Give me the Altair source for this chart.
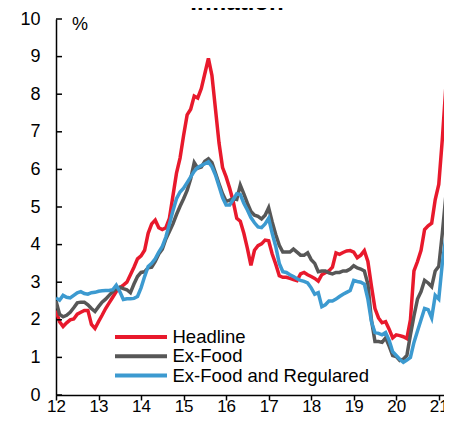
import altair as alt
import pandas as pd

# ---- data (monthly, Jan 2012 onwards) ----
series_names = ["Headline", "Ex-Food", "Ex-Food and Regulared"]
series_colors = ["#E8192C", "#575757", "#3C9AD0"]

headline = [2.25, 1.95, 1.82, 1.92, 2.0, 2.02, 2.15, 2.2, 2.25, 2.25, 1.88, 1.77,
            1.95, 2.12, 2.3, 2.45, 2.6, 2.75, 2.85, 2.92, 3.0, 3.2, 3.4, 3.62,
            3.7, 3.85, 4.3, 4.55, 4.65, 4.45, 4.4, 4.45, 4.7, 5.3, 5.9, 6.3,
            6.9, 7.45, 7.6, 7.95, 7.9, 8.15, 8.55, 8.95, 8.5, 7.6, 6.7, 6.05,
            5.8, 5.5, 5.15, 4.7, 4.62, 4.3, 3.9, 3.45, 3.85, 3.97, 4.02, 4.12,
            4.1, 3.75, 3.48, 3.17, 3.13, 3.13, 3.1, 3.07, 3.04, 3.22, 3.26, 3.2,
            3.15, 3.1, 3.03, 3.2, 3.25, 3.3, 3.4, 3.78, 3.74, 3.79, 3.83, 3.84,
            3.8, 3.65, 3.72, 3.84, 3.55, 2.9, 2.3, 2.05, 1.92, 1.95, 1.75, 1.52,
            1.6, 1.58, 1.55, 1.5, 2.0, 3.3, 3.55, 3.85, 4.4, 4.5, 4.57, 5.2,
            5.6, 6.8, 8.2]

ex_food = [2.5, 2.15, 2.08, 2.12, 2.2, 2.32, 2.45, 2.47, 2.47, 2.4, 2.3, 2.22,
           2.35, 2.47, 2.55, 2.65, 2.75, 2.82, 2.87, 2.83, 2.8, 2.72, 2.95, 3.15,
           3.26, 3.28, 3.38, 3.4, 3.55, 3.75, 3.88, 4.15, 4.35, 4.55, 4.8, 5.02,
           5.22, 5.44, 5.75, 6.18, 6.03, 6.06, 6.22, 6.28, 6.18, 5.9, 5.62, 5.35,
           5.15, 5.18, 5.22, 5.2, 5.58, 5.35, 5.1, 4.88, 4.78, 4.75, 4.68, 4.78,
           4.98, 4.6, 4.27, 3.98, 3.8, 3.8, 3.8, 3.88, 3.8, 3.72, 3.72, 3.78,
           3.6, 3.5, 3.28, 3.3, 3.3, 3.25, 3.22, 3.26, 3.26, 3.3, 3.3, 3.35,
           3.44, 3.38, 3.35, 3.3, 2.95, 2.0, 1.42, 1.42, 1.4, 1.52, 1.3, 1.05,
           1.02, 0.92, 0.95, 1.05, 1.6, 2.1, 2.55, 2.75, 3.05, 2.98, 2.88, 3.3,
           3.42, 4.3, 5.3]

ex_food_reg = [2.58, 2.52, 2.65, 2.6, 2.58, 2.65, 2.72, 2.75, 2.7, 2.68, 2.72, 2.73,
               2.76, 2.77, 2.78, 2.78, 2.8, 2.92, 2.75, 2.54, 2.56, 2.56, 2.57, 2.62,
               2.85, 3.15, 3.42, 3.5, 3.62, 3.8, 3.95, 4.2, 4.55, 4.9, 5.22, 5.4,
               5.5, 5.65, 5.8, 5.95, 6.05, 6.1, 6.15, 6.2, 6.07, 5.85, 5.55, 5.25,
               5.05, 5.05, 5.2, 5.35, 5.33, 5.1, 4.92, 4.72, 4.58, 4.47, 4.45, 4.55,
               4.7, 4.3, 3.95, 3.5, 3.28, 3.26, 3.2, 3.15, 3.09, 3.05, 3.02, 2.98,
               2.85, 2.68, 2.72, 2.35, 2.4, 2.5, 2.5, 2.55, 2.62, 2.68, 2.73, 2.78,
               3.05, 3.02, 3.0, 2.95, 2.55, 1.95, 1.66, 1.64, 1.6, 1.66, 1.45, 1.15,
               1.05, 0.95, 0.87, 0.93, 1.0, 1.4, 1.7, 2.0, 2.3, 2.27, 2.05, 2.65,
               2.55, 3.5, 4.2]

x_ticks = [12, 13, 14, 15, 16, 17, 18, 19, 20, 21]
y_ticks = [0, 1, 2, 3, 4, 5, 6, 7, 8, 9, 10]
title_text = "Inflation"
unit_text = "%"

FONT = "Liberation Sans"
all_series = [headline, ex_food, ex_food_reg]

xscale = alt.Scale(domain=[12, 21.123], nice=False, zero=False)
yscale = alt.Scale(domain=[0, 10], nice=False)
xaxis = alt.Axis(values=x_ticks, format="d", tickSize=5, labelPadding=-2,
                 labelFontSize=17, title=None, grid=False, labelFlush=False,
                 labelOverlap=False, domainWidth=1.5, tickWidth=1.5)
yaxis = alt.Axis(values=y_ticks, ticks=False, labelPadding=16, labelFontSize=18,
                 title=None, grid=False, labelOverlap=False, labelFlush=False,
                 domainWidth=1.5)

layers = []
for name, color, vals in zip(series_names, series_colors, all_series):
    df = pd.DataFrame({"t": [12 + i / 12 for i in range(len(vals))], "v": vals})
    layers.append(
        alt.Chart(df).mark_line(color=color, strokeWidth=3.5, clip=True).encode(
            x=alt.X("t:Q", scale=xscale, axis=xaxis),
            y=alt.Y("v:Q", scale=yscale, axis=yaxis),
        )
    )

# inward y ticks
ytick_df = pd.DataFrame({"v": y_ticks})
yticks = alt.Chart(ytick_df).mark_rule(color="black", strokeWidth=1.5).encode(
    y=alt.Y("v:Q", scale=yscale, axis=yaxis), x=alt.value(0), x2=alt.value(6)
)

one = pd.DataFrame({"a": [0]})
title = alt.Chart(one).mark_text(fontSize=24, fontWeight="bold", font=FONT,
                                 align="center", baseline="alphabetic", color="black").encode(
    x=alt.value(181), y=alt.value(-9), text=alt.value(title_text))
unit = alt.Chart(one).mark_text(fontSize=18, font=FONT, align="center",
                                baseline="middle", color="black").encode(
    x=alt.value(24), y=alt.value(6), text=alt.value(unit_text))

legend_layers = []
for i, (name, color) in enumerate(zip(series_names, series_colors)):
    ly = 318 + i * 19.3
    legend_layers.append(
        alt.Chart(one).mark_rule(color=color, strokeWidth=4).encode(
            x=alt.value(59), x2=alt.value(111), y=alt.value(ly)))
    legend_layers.append(
        alt.Chart(one).mark_text(fontSize=18.5, font=FONT, align="left",
                                 baseline="middle", color="black").encode(
            x=alt.value(116.5), y=alt.value(ly), text=alt.value(name)))

chart = alt.layer(*layers, yticks, *legend_layers, title, unit).properties(
    width=388, height=376,
    autosize=alt.AutoSizeParams(type="none"),
    padding={"left": 48, "top": 11, "right": 0, "bottom": 20},
).configure_view(stroke=None).configure_axis(
    labelFont=FONT, labelColor="black", domainColor="black", tickColor="black"
)

chart.save("out.html", embed_options={"renderer": "svg", "actions": False})
